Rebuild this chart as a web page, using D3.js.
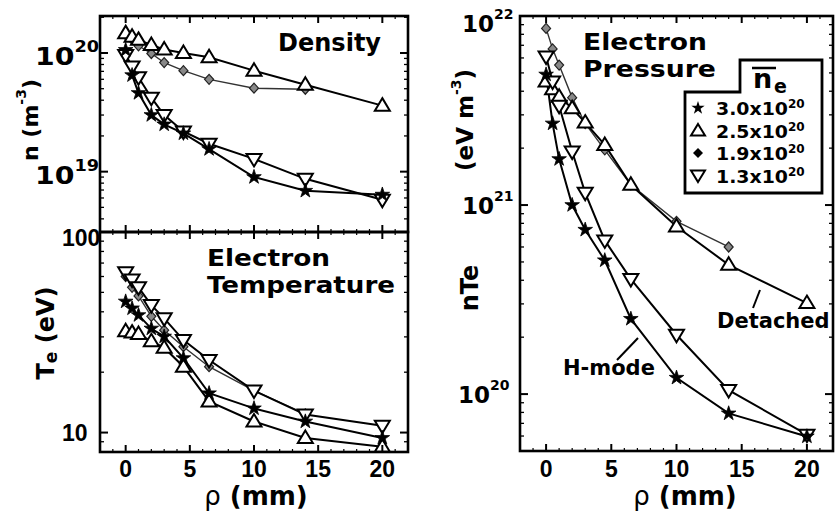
<!DOCTYPE html>
<html><head><meta charset="utf-8">
<script src="https://cdn.jsdelivr.net/npm/d3@7"></script>
<style>body{margin:0;background:#fff} svg{display:block}</style>
</head><body><svg id="c" width="835" height="521"></svg>
<script>
// ---------- data ----------
const rho   = [0, 0.5, 1, 2, 3, 4.5, 6.5, 10, 14, 20];
const rho19 = [0, 0.5, 1, 2, 3, 4.5, 6.5, 10, 14];
const legendLabels = ["3.0", "2.5", "1.9", "1.3"];

// density n (m^-3)
const n30 = [1.06e20, 6.5e19, 4.6e19, 3.0e19, 2.5e19, 2.1e19, 1.55e19, 9.0e18, 6.9e18, 6.4e18];
const n25 = [1.47e20, 1.37e20, 1.29e20, 1.17e20, 1.07e20, 1.0e20, 9.2e19, 7.1e19, 5.4e19, 3.6e19];
const n19 = [1.42e20, 1.3e20, 1.15e20, 9.9e19, 8.3e19, 7.1e19, 6.0e19, 5.05e19, 4.95e19];
const n13 = [9.6e19, 7.7e19, 6.25e19, 4.2e19, 3.0e19, 2.18e19, 1.72e19, 1.28e19, 8.7e18, 5.8e18];

// electron temperature Te (eV)
const T30 = [45, 41.6, 38.5, 33, 30.1, 23.5, 15.7, 13.2, 11.35, 9.4];
const T25 = [32, 31.5, 31, 28.5, 26.5, 21.3, 14.3, 11.35, 9.4, 8.5];
const T19 = [60, 53, 48, 38, 32.4, 26.8, 21.3, 16.2, 12.4];
const T13 = [63, 58, 53, 43.2, 37.1, 28.9, 23.0, 16.2, 12.3, 10.8];

// electron pressure nTe (eV m^-3)
const p30 = [4.9e21, 2.7e21, 1.75e21, 1.0e21, 7.4e20, 5.1e20, 2.5e20, 1.22e20, 7.9e19, 5.97e19];
const p25 = [4.5e21, 4.1e21, 3.74e21, 3.25e21, 2.73e21, 2.08e21, 1.28e21, 7.7e20, 4.83e20, 3.03e20];
const p19 = [8.6e21, 6.7e21, 5.5e21, 3.7e21, 2.7e21, 1.96e21, 1.28e21, 8.2e20, 6.0e20];
const p13 = [6.1e21, 4.5e21, 3.35e21, 1.92e21, 1.16e21, 6.5e20, 4.06e20, 2.06e20, 1.05e20, 6.1e19];

const xMajor = [0, 5, 10, 15, 20];
const xMinor = [-1, 1, 2, 3, 4, 6, 7, 8, 9, 11, 12, 13, 14, 16, 17, 18, 19, 21];

// ---------- setup ----------
const svg = d3.select("#c");
const F = "'DejaVu Sans', sans-serif";
const FA = "'Liberation Sans', Arial, sans-serif";

const xL = d3.scaleLinear().domain([-2, 22]).range([100, 408]);
const xR = d3.scaleLinear().domain([-2, 22]).range([520, 833]);
const yN = d3.scaleLog().domain([3.1e18, 2.05e20]).range([232, 16]);
const yT = d3.scaleLog().domain([8, 100]).range([452, 232]);
const yP = d3.scaleLog().domain([5e19, 1e22]).range([451, 16]);

const upTri = "M0,-7.5L7.5,5L-7.5,5Z";
const dnTri = "M0,7.5L7.5,-5L-7.5,-5Z";
const diam = "M0,-5L4.5,0L0,5L-4.5,0Z";
const star = d3.symbol(d3.symbolStar, 66)();

function logMinors(domain) {
  const out = [];
  const lo = Math.floor(Math.log10(domain[0])), hi = Math.ceil(Math.log10(domain[1]));
  for (let e = lo; e <= hi; e++) for (let m = 1; m <= 9; m++) {
    const v = m * Math.pow(10, e);
    if (v >= domain[0] * 0.999 && v <= domain[1] * 1.001) out.push({v, major: m === 1});
  }
  return out;
}

function frame(x, y) {
  const [x0, x1] = x.range(), [y0, y1] = [y.range()[1], y.range()[0]];
  const g = svg.append("g").attr("stroke", "#000").attr("fill", "none");
  const xt = xMajor.map(v => ({v, L: 7})).concat(xMinor.map(v => ({v, L: 3})));
  xt.forEach(t => {
    g.append("line").attr("x1", x(t.v)).attr("x2", x(t.v)).attr("y1", y1).attr("y2", y1 - t.L).attr("stroke-width", t.L > 4 ? 2 : 1.2);
    g.append("line").attr("x1", x(t.v)).attr("x2", x(t.v)).attr("y1", y0).attr("y2", y0 + t.L).attr("stroke-width", t.L > 4 ? 2 : 1.2);
  });
  logMinors(y.domain()).forEach(t => {
    const L = t.major ? 8 : 4;
    g.append("line").attr("x1", x0).attr("x2", x0 + L).attr("y1", y(t.v)).attr("y2", y(t.v)).attr("stroke-width", t.major ? 2 : 1.3);
    g.append("line").attr("x1", x1).attr("x2", x1 - L).attr("y1", y(t.v)).attr("y2", y(t.v)).attr("stroke-width", t.major ? 2 : 1.3);
  });
  g.append("rect").attr("x", x0).attr("y", y0).attr("width", x1 - x0).attr("height", y1 - y0).attr("stroke-width", 2.6);
}

function series(x, y, xs, ys, kind) {
  const pts = xs.map((v, i) => [x(v), y(ys[i])]);
  svg.append("path").attr("d", d3.line()(pts)).attr("fill", "none")
    .attr("stroke", kind === "diam" ? "#333" : "#000").attr("stroke-width", kind === "diam" ? 1.4 : 2);
  return pts;
}
function markers(pts, kind) {
  const g = svg.append("g");
  pts.forEach(p => {
    const m = g.append("path").attr("transform", `translate(${p[0]},${p[1]})`);
    if (kind === "star") m.attr("d", star).attr("fill", "#000").attr("stroke", "#000").attr("stroke-width", 0.8);
    else if (kind === "up") m.attr("d", upTri).attr("fill", "#fff").attr("stroke", "#000").attr("stroke-width", 2);
    else if (kind === "down") m.attr("d", dnTri).attr("fill", "#fff").attr("stroke", "#000").attr("stroke-width", 2);
    else m.attr("d", diam).attr("fill", "#888").attr("stroke", "#222").attr("stroke-width", 1.2);
  });
}
function panel(x, y, sets) {
  const all = sets.map(s => ({pts: series(x, y, s[0], s[1], s[2]), kind: s[2]}));
  all.forEach(s => markers(s.pts, s.kind));
}

// ---------- panels ----------
panel(xL, yN, [[rho19, n19, "diam"], [rho, n25, "up"], [rho, n13, "down"], [rho, n30, "star"]]);
panel(xL, yT, [[rho19, T19, "diam"], [rho, T25, "up"], [rho, T13, "down"], [rho, T30, "star"]]);
panel(xR, yP, [[rho19, p19, "diam"], [rho, p25, "up"], [rho, p13, "down"], [rho, p30, "star"]]);
frame(xL, yN);
frame(xL, yT);
frame(xR, yP);

// ---------- text helpers ----------
function txt(x, y, s, o = {}) {
  const t = svg.append("text").attr("x", x).attr("y", y).text(s)
    .attr("font-family", o.ff || F).attr("font-weight", "bold")
    .attr("font-size", o.fs || 24).attr("text-anchor", o.anchor || "start").attr("fill", "#000");
  if (o.len) t.attr("textLength", o.len).attr("lengthAdjust", "spacingAndGlyphs");
  return t;
}
function powLabel(x, y, exp, fs, ss, dy, sx) {
  const t = svg.append("text").attr("transform", `translate(${x},${y}) scale(${sx},1)`)
    .attr("font-family", F).attr("font-weight", "bold").attr("font-size", fs).attr("fill", "#000");
  t.append("tspan").text("10");
  t.append("tspan").attr("font-size", ss).attr("dy", dy).text(exp);
}

// y tick labels
powLabel(35, yN(1e20) + 12, "20", 24, 15, -13, 1.18);
powLabel(35, yN(1e19) + 12, "19", 24, 15, -13, 1.18);
txt(62, 246, "100", {ff: FA, fs: 23});
txt(62, yT(10) + 8, "10", {ff: FA, fs: 23});
powLabel(462, yP(1e22) + 16, "22", 23, 14, -13, 1.0);
powLabel(462, yP(1e21) + 9, "21", 23, 14, -13, 1.0);
powLabel(458, yP(1e20) + 9, "20", 23, 14, -13, 1.0);

// x tick labels
xMajor.forEach(v => {
  txt(xL(v), 477, String(v), {ff: FA, fs: 23, anchor: "middle"});
  txt(xR(v), 477, String(v), {ff: FA, fs: 23, anchor: "middle"});
});

// x axis titles
[[256, 505], [685, 505]].forEach(([cx, cy]) => {
  const t = svg.append("text").attr("x", cx).attr("y", cy).attr("text-anchor", "middle")
    .attr("font-family", F).attr("font-weight", "bold").attr("font-size", 26).attr("fill", "#000");
  t.append("tspan").attr("font-weight", "normal").text("ρ");
  t.append("tspan").text(" (mm)");
});

// y axis titles (rotated)
function rot(cx, cy, parts, fs) {
  const t = svg.append("text").attr("transform", `translate(${cx},${cy}) rotate(-90)`)
    .attr("text-anchor", "middle").attr("dominant-baseline", "central")
    .attr("font-family", F).attr("font-weight", "bold").attr("font-size", fs).attr("fill", "#000");
  parts.forEach(p => {
    const s = t.append("tspan").text(p.t);
    if (p.fs) s.attr("font-size", p.fs);
    if (p.dy) s.attr("dy", p.dy);
  });
}
rot(30, 120, [{t: "n (m"}, {t: "-3", fs: 14, dy: -9}, {t: ")", dy: 9}], 22);
rot(46, 333, [{t: "T"}, {t: "e", fs: 17, dy: 5}, {t: " (eV)", dy: -5}], 24);
rot(465, 120, [{t: "(eV m"}, {t: "-3", fs: 14, dy: -9}, {t: ")", dy: 9}], 23);
rot(470, 288, [{t: "nTe"}], 24);

// panel titles
txt(381, 51, "Density", {fs: 24, anchor: "end"});
txt(207, 266, "Electron", {fs: 23, len: 123});
txt(207, 293, "Temperature", {fs: 23, len: 188});
txt(583, 50, "Electron", {fs: 23, len: 124});
txt(583, 77, "Pressure", {fs: 23, len: 133});

// legend
svg.append("path").attr("d", "M740,60L822,60L822,193L685,193L685,92L740,92Z")
  .attr("fill", "#fff").attr("stroke", "#000").attr("stroke-width", 2.8);
const hdr = svg.append("text").attr("font-family", F).attr("font-weight", "bold").attr("fill", "#000");
hdr.append("tspan").attr("x", 753).attr("y", 88).attr("font-size", 27).text("n");
hdr.append("tspan").attr("x", 774).attr("y", 93).attr("font-size", 19).text("e");
svg.append("line").attr("x1", 752).attr("x2", 776).attr("y1", 68).attr("y2", 68).attr("stroke", "#000").attr("stroke-width", 2.5);
const legKinds = ["star", "up", "diamL", "down"];
const legY = [115, 137.5, 160, 182.5];
legendLabels.forEach((lab, i) => {
  const y = legY[i], cx = 698, cy = y - 7;
  const m = svg.append("path").attr("transform", `translate(${cx},${cy})`);
  const k = legKinds[i];
  if (k === "star") m.attr("d", d3.symbol(d3.symbolStar, 55)()).attr("fill", "#000");
  else if (k === "up") m.attr("d", "M0,-6.5L7,5L-7,5Z").attr("fill", "#fff").attr("stroke", "#000").attr("stroke-width", 2);
  else if (k === "down") m.attr("d", "M0,6.5L7,-5L-7,-5Z").attr("fill", "#fff").attr("stroke", "#000").attr("stroke-width", 2);
  else m.attr("d", "M0,-5L5,0L0,5L-5,0Z").attr("fill", "#000");
  const t = svg.append("text").attr("font-family", F).attr("font-weight", "bold")
    .attr("font-size", 18).attr("fill", "#000");
  t.append("tspan").attr("x", 716).attr("y", y).attr("textLength", 72).attr("lengthAdjust", "spacingAndGlyphs").text(lab + "x10");
  t.append("tspan").attr("font-size", 12).attr("dy", -7).text("20");
});

// annotations
txt(717, 328, "Detached", {fs: 21});
txt(563, 375, "H-mode", {fs: 21});
svg.append("line").attr("x1", 760).attr("y1", 290).attr("x2", 753).attr("y2", 308).attr("stroke", "#000").attr("stroke-width", 2);
svg.append("line").attr("x1", 638).attr("y1", 338).attr("x2", 617).attr("y2", 360).attr("stroke", "#000").attr("stroke-width", 2);
</script></body></html>
